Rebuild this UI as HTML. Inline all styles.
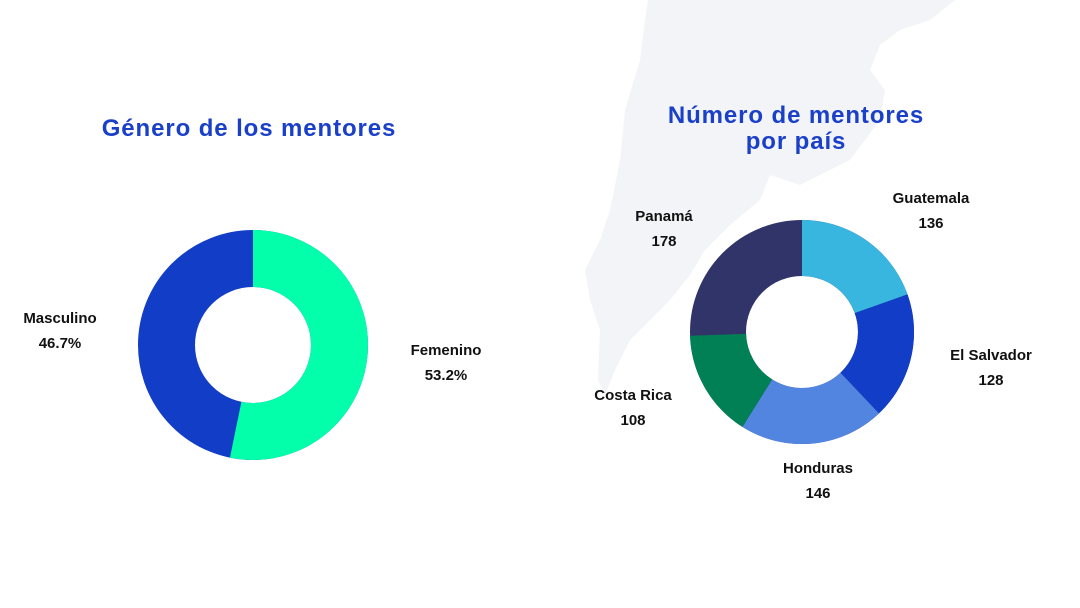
<!DOCTYPE html>
<html><head><meta charset="utf-8"><style>
body{margin:0;background:#fff;}
svg{display:block;font-family:"Liberation Sans",sans-serif;}
.t{font-size:24px;font-weight:bold;fill:#1a3fc8;text-anchor:middle;letter-spacing:0.9px;}
.l{font-size:15px;font-weight:bold;fill:#111;text-anchor:middle;}
</style></head><body>
<svg width="1080" height="608" viewBox="0 0 1080 608">
<rect width="1080" height="608" fill="#fff"/>
<path d="M648 0 L955 0 L930 20 L900 30 L880 45 L870 70 L885 90 L880 120 L850 160 L800 185 L770 175 L760 200 L730 225 L705 250 L690 275 L670 300 L650 320 L630 340 L615 370 L605 395 L598 380 L600 330 L590 300 L585 270 L600 240 L610 210 L620 160 L625 110 L640 60 L645 20 Z" fill="#f3f4f8"/>
<text class="t" x="249" y="136">Género de los mentores</text>
<text class="t" x="796" y="123">Número de mentores</text>
<text class="t" x="796" y="149">por país</text>
<g transform="rotate(-90 253 345)">
<circle cx="253" cy="345" r="86.5" fill="none" stroke="#123dc6" stroke-width="57"/>
<circle cx="253" cy="345" r="86.5" fill="none" stroke="#04ffaa" stroke-width="57" stroke-dasharray="289.1 1000"/>
</g>
<g transform="rotate(-90 802 332)" fill="none" stroke-width="56">
<circle cx="802" cy="332" r="84" stroke="#303468"/>
<circle cx="802" cy="332" r="84" stroke="#39b6df" stroke-dasharray="103.1 1000"/>
<circle cx="802" cy="332" r="84" stroke="#123dc6" stroke-dasharray="0 103.1 97.1 1000"/>
<circle cx="802" cy="332" r="84" stroke="#5285e0" stroke-dasharray="0 200.2 110.7 1000"/>
<circle cx="802" cy="332" r="84" stroke="#018055" stroke-dasharray="0 310.9 81.9 1000"/>
</g>
<text class="l" x="60" y="323">Masculino</text><text class="l" x="60" y="348">46.7%</text>
<text class="l" x="446" y="355">Femenino</text><text class="l" x="446" y="380">53.2%</text>
<text class="l" x="664" y="221">Panamá</text><text class="l" x="664" y="246">178</text>
<text class="l" x="931" y="203">Guatemala</text><text class="l" x="931" y="228">136</text>
<text class="l" x="991" y="360">El Salvador</text><text class="l" x="991" y="385">128</text>
<text class="l" x="633" y="400">Costa Rica</text><text class="l" x="633" y="425">108</text>
<text class="l" x="818" y="473">Honduras</text><text class="l" x="818" y="498">146</text>
</svg>
</body></html>
